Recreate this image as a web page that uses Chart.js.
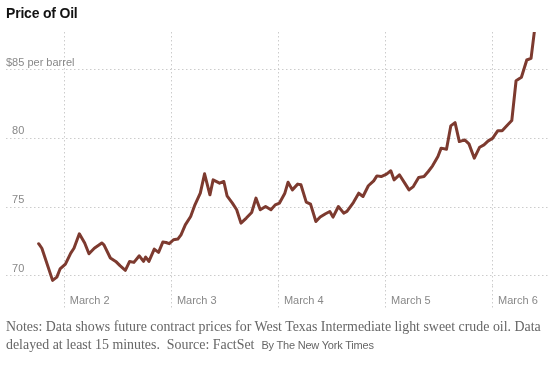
<!DOCTYPE html>
<html>
<head>
<meta charset="utf-8">
<script src="https://cdn.jsdelivr.net/npm/chart.js@4/dist/chart.umd.min.js"></script>
<style>
  html, body { margin: 0; padding: 0; background: #fff; }
  #wrap { position: relative; width: 550px; height: 366px; overflow: hidden; }
  #title { position: absolute; left: 6px; top: 5px; font: bold 14px "Liberation Sans", Arial, sans-serif; color: #121212; letter-spacing: -0.2px; }
  #chartBox { position: absolute; left: 0; top: 0; width: 550px; height: 320px; }
  #notes { position: absolute; left: 6px; top: 318px; width: 544px; font: 13.9px "Liberation Serif", "Times New Roman", serif; color: #666; line-height: 18px; }
  #notes .by { font: 11px "Liberation Sans", Arial, sans-serif; color: #666; letter-spacing: -0.2px; }
</style>
</head>
<body>
<div id="wrap">
  <div id="chartBox"><canvas id="c"></canvas></div>
  <div id="title">Price of Oil</div>
  <div id="notes">Notes: Data shows future contract prices for West Texas Intermediate light sweet crude oil. Data delayed at least 15 minutes.&nbsp; Source: FactSet&nbsp; <span class="by">By The New York Times</span></div>
</div>
<script>
// Time position in days of March (e.g. 2.5 = March 2, noon)
const times = [1.76,1.79,1.89,1.93,1.96,2.01,2.06,2.09,2.14,2.19,2.23,2.28,2.35,2.37,2.43,2.48,2.52,2.57,2.61,2.65,2.70,2.74,2.76,2.79,2.84,2.88,2.92,2.95,2.98,3.02,3.06,3.09,3.13,3.18,3.22,3.27,3.31,3.36,3.39,3.45,3.49,3.52,3.57,3.61,3.65,3.70,3.75,3.79,3.83,3.88,3.93,3.97,4.01,4.06,4.09,4.13,4.18,4.21,4.26,4.30,4.35,4.39,4.44,4.48,4.51,4.56,4.61,4.64,4.70,4.75,4.79,4.84,4.89,4.92,4.96,5.01,5.05,5.08,5.13,5.18,5.22,5.26,5.31,5.36,5.40,5.44,5.49,5.52,5.57,5.61,5.65,5.69,5.74,5.78,5.83,5.88,5.92,5.96,6.00,6.05,6.09,6.14,6.18,6.22,6.27,6.32,6.36,6.39];
// Price per barrel (USD)
const prices = [72.33,72.0,69.66,69.9,70.49,70.85,71.65,72.0,73.05,72.38,71.6,72.0,72.38,72.25,71.29,71.04,70.73,70.39,71.04,70.97,71.45,71.04,71.36,71.04,71.94,71.7,72.45,72.42,72.33,72.62,72.67,72.98,73.7,74.31,75.16,76.01,77.42,75.89,76.98,76.74,76.86,75.82,75.29,74.8,73.83,74.2,74.6,75.65,74.8,75.04,74.8,75.16,75.29,76.01,76.81,76.25,76.67,76.62,75.36,75.21,73.95,74.27,74.51,74.68,74.27,75.04,74.56,74.68,75.33,76.01,75.77,76.55,76.91,77.27,77.22,77.4,77.64,76.98,77.35,76.74,76.25,76.49,77.15,77.22,77.59,78.0,78.68,79.29,79.21,80.91,81.15,79.77,79.89,79.6,78.56,79.36,79.53,79.82,80.0,80.56,80.56,80.98,81.3,84.2,84.45,85.71,85.83,87.72];

const xTickValues = [2, 3, 4, 5, 6];
const xTickLabels = ['March 2', 'March 3', 'March 4', 'March 5', 'March 6'];
const yTickValues = [70, 75, 80, 85];
const yTickLabels = ['\u200770', '\u200775', '\u200780', '$85 per barrel'];

const points = times.map((t, i) => ({ x: t, y: prices[i] }));
const gridColor = '#cccccc';
const labelColor = '#888';
const dots = [1.5, 2.5];

new Chart(document.getElementById('c'), {
  type: 'line',
  data: {
    datasets: [{
      data: points,
      borderColor: '#7d3a2f',
      borderWidth: 3,
      pointRadius: 0,
      tension: 0,
      borderJoinStyle: 'round',
      borderCapStyle: 'round'
    }]
  },
  options: {
    responsive: true,
    maintainAspectRatio: false,
    animation: false,
    layout: { padding: { left: 6, right: 0, top: 32, bottom: 0 } },
    plugins: { legend: { display: false }, tooltip: { enabled: false } },
    scales: {
      x: {
        type: 'linear',
        min: 1.455,
        max: 6.537,
        afterBuildTicks: s => { s.ticks = xTickValues.map(v => ({ value: v })); },
        afterFit: s => { s.height = 34; },
        border: { display: false, dash: dots },
        grid: {
          color: gridColor,
          lineWidth: 1,
          drawTicks: true,
          tickLength: 24,
          tickColor: gridColor,
          tickBorderDash: dots
        },
        ticks: {
          align: 'start',
          labelOffset: 5.5,
          padding: -16,
          maxRotation: 0,
          autoSkip: false,
          color: labelColor,
          font: { family: '"Liberation Sans", Arial, sans-serif', size: 11 },
          callback: v => { const i = xTickValues.indexOf(v); return i >= 0 ? xTickLabels[i] : ''; }
        }
      },
      y: {
        min: 69.25,
        max: 87.75,
        afterBuildTicks: s => { s.ticks = yTickValues.map(v => ({ value: v })); },
        afterFit: s => { s.width = 0; },
        border: { display: false, dash: dots },
        grid: { color: gridColor, lineWidth: 1, drawTicks: false },
        ticks: {
          mirror: true,
          padding: 0,
          labelOffset: -7,
          color: labelColor,
          font: { family: '"Liberation Sans", Arial, sans-serif', size: 11 },
          callback: v => { const i = yTickValues.indexOf(v); return i >= 0 ? yTickLabels[i] : ''; }
        }
      }
    }
  }
});
</script>
</body>
</html>
